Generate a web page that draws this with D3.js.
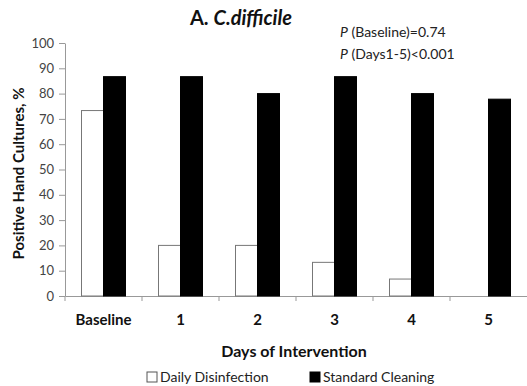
<html>
<head>
<script src="https://d3js.org/d3.v7.min.js"></script>
<style>
  body { margin: 0; background: #fff; }
  text { font-family: Lato, "Open Sans", sans-serif; }
</style>
</head>
<body>
<div id="chart"></div>
<script>
var categories = ["Baseline", "1", "2", "3", "4", "5"];
var seriesNames = ["Daily Disinfection", "Standard Cleaning"];
var dailyDisinfection = [73.3, 20, 20, 13.3, 6.7, 0];
var standardCleaning = [86.7, 86.7, 80, 86.7, 80, 77.8];
var yTicks = [0, 10, 20, 30, 40, 50, 60, 70, 80, 90, 100];

var margin = { top: 43, right: 0, bottom: 90, left: 65 },
    width = 527 - margin.left - margin.right,
    height = 386 - margin.top - margin.bottom;

var svg = d3.select("#chart")
    .append("svg")
    .attr("width", 527)
    .attr("height", 386)
    .append("g")
    .attr("transform", "translate(" + margin.left + "," + margin.top + ")");

var x = d3.scaleBand()
    .domain(categories)
    .range([0, width])
    .paddingInner(0)
    .paddingOuter(0);

var x1 = d3.scaleBand()
    .domain(seriesNames)
    .range([x.bandwidth() / 2 - 22, x.bandwidth() / 2 + 22]);

var y = d3.scaleLinear()
    .domain([0, 100])
    .range([height, 0]);

// Y axis
var yAxis = svg.append("g")
    .call(d3.axisLeft(y).tickValues(yTicks).tickSize(6).tickSizeOuter(0).tickPadding(5));
yAxis.select(".domain").attr("stroke", "#999");
yAxis.selectAll(".tick line").attr("stroke", "#999");
yAxis.selectAll(".tick text")
    .attr("fill", "#444")
    .style("font-size", "13px");

// X axis
var xAxis = svg.append("g")
    .attr("transform", "translate(0," + height + ")")
    .call(d3.axisBottom(x).tickSize(0).tickPadding(18).tickSizeOuter(0));
xAxis.select(".domain").attr("stroke", "#999");
xAxis.selectAll(".tick text")
    .attr("fill", "#111")
    .style("font-size", "15px")
    .style("font-weight", "bold");

// band boundary ticks
svg.selectAll(".bandTick")
    .data(categories)
    .enter()
    .append("line")
    .attr("x1", function (d) { return x(d); })
    .attr("x2", function (d) { return x(d); })
    .attr("y1", height)
    .attr("y2", height + 5)
    .attr("stroke", "#999");

var data = categories.map(function (c, i) {
    return { cat: c, values: [
        { name: seriesNames[0], v: dailyDisinfection[i] },
        { name: seriesNames[1], v: standardCleaning[i] }
    ] };
});

var groups = svg.selectAll(".grp")
    .data(data)
    .enter()
    .append("g")
    .attr("transform", function (d) { return "translate(" + x(d.cat) + ",0)"; });

groups.selectAll("rect")
    .data(function (d) { return d.values; })
    .enter()
    .append("rect")
    .attr("x", function (d) { return x1(d.name); })
    .attr("y", function (d) { return y(d.v); })
    .attr("width", x1.bandwidth())
    .attr("height", function (d) { return height - y(d.v); })
    .attr("fill", function (d) { return d.name === seriesNames[0] ? "#fff" : "#000"; })
    .attr("stroke", function (d) { return d.name === seriesNames[0] ? "#777" : "#000"; })
    .attr("stroke-width", 1);

// Title
var title = svg.append("text")
    .attr("x", 176)
    .attr("y", -18)
    .attr("text-anchor", "middle")
    .style("font-size", "20px")
    .style("font-weight", "bold")
    .attr("fill", "#111");
title.append("tspan").text("A. ");
title.append("tspan").style("font-style", "italic").text("C.difficile");

// P annotations
var p1 = svg.append("text").attr("x", 275).attr("y", -6).style("font-size", "14px").attr("fill", "#222");
p1.append("tspan").style("font-style", "italic").text("P");
p1.append("tspan").text(" (Baseline)=0.74");
var p2 = svg.append("text").attr("x", 275).attr("y", 16).style("font-size", "14px").attr("fill", "#222");
p2.append("tspan").style("font-style", "italic").text("P");
p2.append("tspan").text(" (Days1-5)<0.001");

// Y label
svg.append("text")
    .attr("transform", "translate(-41," + (height / 2 + 4) + ") rotate(-90)")
    .attr("text-anchor", "middle")
    .style("font-size", "15px")
    .style("font-weight", "bold")
    .attr("fill", "#111")
    .text("Positive Hand Cultures, %");

// X label
svg.append("text")
    .attr("x", 229)
    .attr("y", height + 61)
    .attr("text-anchor", "middle")
    .style("font-size", "16px")
    .style("font-weight", "bold")
    .attr("fill", "#111")
    .text("Days of Intervention");

// Legend
var legend = svg.append("g").attr("transform", "translate(0," + (height + 86) + ")");
var legX = [82, 245];
seriesNames.forEach(function (n, i) {
    legend.append("rect")
        .attr("x", legX[i])
        .attr("y", -10)
        .attr("width", 10)
        .attr("height", 10)
        .attr("fill", i === 0 ? "#fff" : "#000")
        .attr("stroke", i === 0 ? "#555" : "#000");
    legend.append("text")
        .attr("x", legX[i] + 13)
        .attr("y", 0)
        .style("font-size", "14px")
        .attr("fill", "#222")
        .text(n);
});
</script>
</body>
</html>
